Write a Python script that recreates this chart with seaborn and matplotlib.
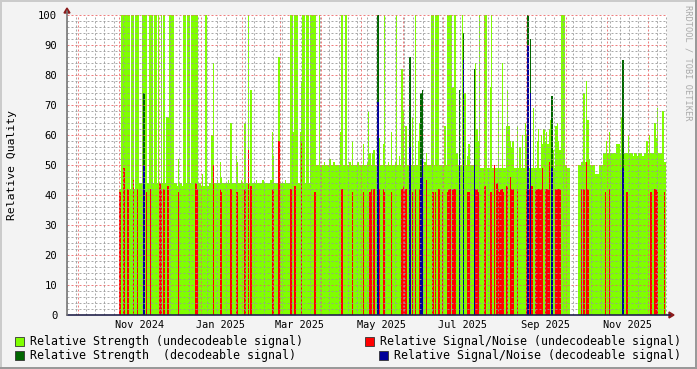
import numpy as np
import pandas as pd
import matplotlib
matplotlib.use("Agg")
import matplotlib.pyplot as plt
import matplotlib.dates as mdates
from matplotlib.patches import Rectangle, Polygon
from matplotlib.lines import Line2D
from matplotlib.transforms import blended_transform_factory
import seaborn as sns

nan = np.nan

# ---------------- data (one value per day, starting 2024-11-01) ----------------
start_date = "2024-11-01"

strength_undec = [
    42, 100, 100, 100, 100, 100, 100, 100, 42, 100,
    100, 42, 100, 100, 100, 44, 44, 100, 100, 100,
    100, 44, 100, 100, 100, 44, 100, 100, 44, 100,
    44, 100, 44, 100, 44, 66, 66, 100, 100, 100,
    100, 44, 44, 43, 52, 44, 44, 43, 100, 100,
    44, 100, 100, 44, 100, 100, 100, 100, 100, 44,
    44, 43, 47, 43, 100, 100, 43, 44, 44, 60,
    84, 44, 44, 45, 44, 51, 46, 44, 44, 44,
    44, 45, 44, 64, 44, 44, 44, 53, 51, 44,
    44, 45, 44, 64, 64, 44, 100, 44, 75, 44,
    44, 44, 45, 44, 44, 44, 44, 45, 44, 44,
    44, 44, 44, 45, 61, 53, 44, 44, 44, 86,
    44, 44, 44, 44, 45, 44, 44, 44, 100, 100,
    61, 100, 100, 100, 44, 61, 78, 100, 100, 44,
    100, 100, 44, 100, 100, 100, 100, 50, 50, 100,
    50, 50, 50, 51, 50, 50, 50, 52, 50, 50,
    51, 50, 50, 50, 50, 61, 100, 50, 50, 100,
    50, 50, 51, 50, 58, 50, 50, 50, 51, 50,
    50, 50, 57, 50, 50, 51, 68, 54, 50, 54,
    55, 50, 50, 50, 59, 50, 50, 57, 100, 50,
    50, 51, 50, 61, 50, 50, 51, 100, 50, 53,
    50, 82, 68, 50, 63, 50, 50, 50, 50, 66,
    50, 100, 50, 58, 64, 50, 50, 50, 51, 54,
    50, 50, 50, 100, 100, 50, 100, 100, 100, 50,
    50, 50, 50, 63, 50, 100, 100, 100, 100, 76,
    100, 100, 54, 50, 50, 50, 100, 50, 74, 50,
    53, 57, 50, 50, 50, 50, 84, 62, 58, 100,
    49, 49, 49, 100, 100, 49, 49, 76, 100, 49,
    49, 49, 49, 68, 49, 49, 84, 49, 49, 63,
    75, 63, 58, 56, 58, 49, 49, 63, 49, 56,
    49, 60, 49, 64, 60, 49, 49, 49, 49, 69,
    49, 49, 58, 62, 49, 60, 57, 62, 58, 61,
    57, 62, 65, 65, 55, 49, 63, 64, 58, 55,
    100, 100, 100, 50, 50, 49, 49, nan, nan, nan,
    nan, nan, nan, 50, 50, 51, 51, 74, 51, 78,
    65, 52, 50, 50, 50, 50, 47, 47, 47, 50,
    50, 50, 54, 54, 58, 54, 61, 54, 54, 54,
    54, 57, 57, 57, 54, 66, 54, 54, 54, 54,
    60, 54, 54, 54, 53, 54, 54, 53, 54, 54,
    54, 53, 54, 54, 58, 54, 60, 54, 54, 54,
    64, 59, 69, 54, 54, 54, 68, 51, 51,
]

snr_undec_day = [0, 3, 6, 10, 13, 20, 23, 30, 31, 33, 36, 44, 57, 58, 70, 75, 76, 83, 87, 88,
                 93, 94, 96, 98, 114, 115, 119, 128, 131, 136, 146, 166, 174, 182, 187, 188,
                 190, 194, 197, 198, 203, 211, 212, 213, 214, 219, 221, 224, 229, 234, 236,
                 238, 239, 241, 245, 246, 247, 249, 250, 251, 254, 260, 261, 266, 267, 268,
                 273, 277, 278, 280, 282, 283, 284, 285, 286, 287, 289, 290, 292, 293, 294,
                 297, 304, 305, 306, 307, 308, 311, 312, 313, 314, 315, 316, 318, 319, 320,
                 321, 323, 326, 327, 328, 329, 345, 347, 349, 350, 363, 366, 376, 379, 397,
                 400, 401, 402, 407]
snr_undec_val = [41, 49, 42, 45, 42, 41, 42, 44, 42, 42, 43, 41, 44, 42, 50, 42, 41, 42, 41, 41,
                 42, 42, 55, 43, 42, 42, 58, 42, 43, 58, 41, 42, 41, 41, 41, 42,
                 42, 42, 42, 41, 41, 42, 43, 42, 42, 41, 42, 42, 45, 41, 41,
                 42, 42, 41, 41, 42, 42, 42, 42, 42, 42, 41, 41, 42, 42, 41,
                 43, 41, 41, 50, 44, 42, 41, 42, 42, 41, 43, 43, 46, 42, 42,
                 42, 42, 43, 42, 42, 43, 42, 42, 42, 42, 42, 49, 42, 42, 42,
                 51, 44, 42, 42, 42, 42, 42, 42, 51, 42, 41, 42, 43, 41, 41,
                 42, 42, 41, 41]

strength_dec_day = [18, 193, 217, 225, 226, 254, 257, 265, 305, 307, 323, 376]
strength_dec_val = [74, 100, 86, 74, 75, 75, 94, 82, 100, 92, 73, 85]
snr_dec_day = [18, 193, 217, 225, 226, 254, 257, 265, 305, 307, 323, 376]
snr_dec_val = [50, 71, 56, 46, 52, 52, 85, 50, 90, 74, 49, 49]

label_months = ["2024-11-16", "2025-01-16", "2025-03-16", "2025-05-16",
                "2025-07-16", "2025-09-16", "2025-11-16"]
label_texts = ["Nov 2024", "Jan 2025", "Mar 2025", "May 2025",
               "Jul 2025", "Sep 2025", "Nov 2025"]

legend_labels = ["Relative Strength (undecodeable signal)",
                 "Relative Signal/Noise (undecodeable signal)",
                 "Relative Strength  (decodeable signal)",
                 "Relative Signal/Noise (decodeable signal)"]
col_lgreen = "#80FF00"
col_red = "#FF0000"
col_dgreen = "#006600"
col_blue = "#000099"

# ---------------- figure ----------------
MONO = "DejaVu Sans Mono"
W, H = 697, 369
sns.set_style("white")
plt.rcParams["font.family"] = [MONO]
fig = plt.figure(figsize=(W / 100, H / 100), dpi=100, facecolor="#F3F3F3")


def fx(px):
    return px / W


def fy(py):
    return 1 - py / H


ax = fig.add_axes([fx(67), fy(315), fx(667) - fx(67), fy(15) - fy(315)])
ax.set_facecolor("white")

x0 = float(mdates.date2num(pd.Timestamp(start_date)))
n = len(strength_undec)


def draw(days, vals, color):
    days = np.asarray(days, dtype=float)
    vals = np.asarray(vals, dtype=float)
    ok = ~np.isnan(vals)
    df = pd.DataFrame({"t": x0 + days[ok] + 0.5, "v": vals[ok]})
    sns.histplot(data=df, x="t", weights="v", binwidth=1, binrange=(x0, x0 + n),
                 stat="count", element="bars", fill=True, color=color, alpha=1,
                 linewidth=0, antialiased=False, ax=ax)


draw(np.arange(n), strength_undec, col_lgreen)
draw(strength_dec_day, strength_dec_val, col_dgreen)
draw(snr_undec_day, snr_undec_val, col_red)
draw(snr_dec_day, snr_dec_val, col_blue)

ax.set_xlim(x0 - 48 / 1.348, x0 + 552 / 1.348)
ax.set_ylim(0, 100)
ax.set_xlabel("")
ax.set_ylabel("")

# grid
months = pd.date_range("2024-10-01", "2025-12-01", freq="MS")
weeks = pd.date_range("2024-09-23", "2025-12-15", freq="7D")
ax.set_xticks(mdates.date2num(months))
ax.set_xticks(mdates.date2num(weeks), minor=True)
ax.set_yticks(np.arange(0, 101, 10))
ax.set_yticks(np.arange(0, 101, 2), minor=True)
ax.set_xticklabels([])
ax.set_axisbelow(False)
ax.grid(True, which="major", color=(0.92, 0.4, 0.4, 0.42), linestyle=(0, (2.4, 2.4)),
        linewidth=0.6)
ax.grid(True, which="minor", color=(0.6, 0.6, 0.6, 0.28), linestyle=(0, (2.4, 2.4)),
        linewidth=0.6)
ax.tick_params(axis="x", which="major", length=3, color="#C06060", width=0.7, pad=1)
ax.tick_params(axis="x", which="minor", length=2, color="#AAAAAA", width=0.5)
ax.tick_params(axis="y", which="major", length=3, color="#C06060", width=0.7, pad=4,
               labelsize=7.6, labelcolor="black")
ax.tick_params(axis="y", which="minor", length=2, color="#AAAAAA", width=0.5)
for lab in ax.get_yticklabels():
    lab.set_fontfamily(MONO)
for s in ax.spines.values():
    s.set_visible(False)

trans = blended_transform_factory(ax.transData, fig.transFigure)
for d, t in zip(label_months, label_texts):
    ax.text(mdates.date2num(pd.Timestamp(d)), fy(325), t, transform=trans, ha="center",
            va="center", fontsize=7.4, family=MONO, color="black")

# axes lines and arrows
fig.add_artist(Line2D([fx(67), fx(670)], [fy(315), fy(315)], color="#22224A", lw=1.2))
fig.add_artist(Line2D([fx(67), fx(67)], [fy(315), fy(11)], color="#777777", lw=1.2))
fig.add_artist(Polygon([[fx(669), fy(312)], [fx(674), fy(315)], [fx(669), fy(318)]],
                       closed=True, color="#8B1A1A", transform=fig.transFigure))
fig.add_artist(Polygon([[fx(64), fy(13)], [fx(67), fy(8)], [fx(70), fy(13)]],
                       closed=True, color="#8B1A1A", transform=fig.transFigure))

# labels
fig.text(fx(12), fy(165), "Relative Quality", rotation=90, ha="center", va="center",
         fontsize=8.2, family=MONO, color="black")
fig.text(fx(688), fy(5), "RRDTOOL / TOBI OETIKER", rotation=270, ha="center", va="top",
         fontsize=6.2, family=MONO, color="#AAAAAA")

# legend
leg = [(15, 341, col_lgreen, legend_labels[0]),
       (365, 341, col_red, legend_labels[1]),
       (15, 355, col_dgreen, legend_labels[2]),
       (379, 355, col_blue, legend_labels[3])]
for bx, by, c, t in leg:
    fig.add_artist(Rectangle((fx(bx), fy(by + 4.5)), 9 / W, 9 / H, transform=fig.transFigure,
                             facecolor=c, edgecolor="#333333", lw=0.6))
    fig.text(fx(bx + 15), fy(by), t, ha="left", va="center", fontsize=8.4, family=MONO,
             color="black")

# 3D border
fig.add_artist(Rectangle((0, fy(2)), 1, 2 / H, transform=fig.transFigure, color="#CBCBCB", lw=0))
fig.add_artist(Rectangle((0, 0), 2 / W, 1, transform=fig.transFigure, color="#CBCBCB", lw=0))
fig.add_artist(Rectangle((0, 0), 1, 2 / H, transform=fig.transFigure, color="#999999", lw=0))
fig.add_artist(Rectangle((fx(695), 0), 2 / W, 1, transform=fig.transFigure, color="#999999", lw=0))

fig.savefig("out.png", dpi=100, facecolor=fig.get_facecolor())
